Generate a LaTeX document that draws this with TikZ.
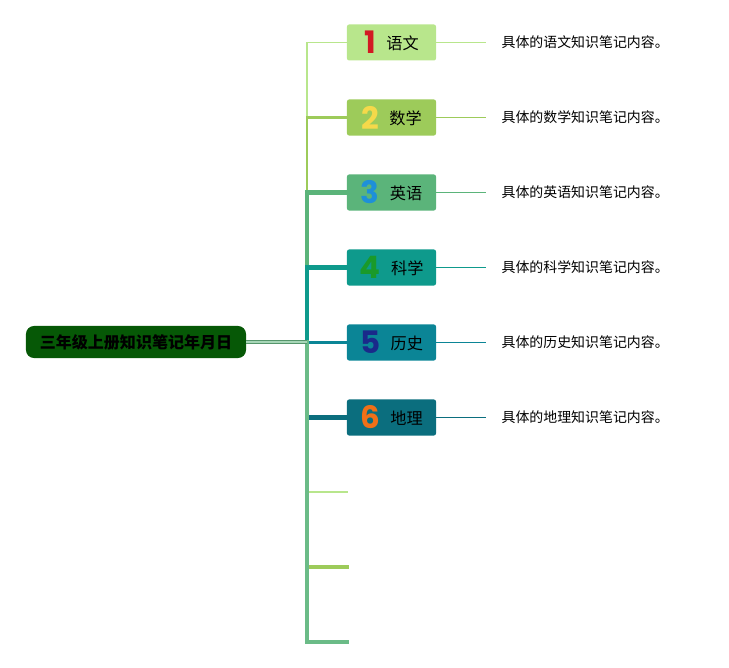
\documentclass[tikz,border=0pt]{standalone}
\usepackage{fontspec}
\newfontfamily\cjk{Noto Sans CJK SC}
\newfontfamily\zahl{Poppins}
\newcommand\nummer{\zahl\bfseries\fontsize{22}{22}\selectfont}
\newcommand\fachname[1]{\hspace{7.5pt}\raisebox{3.2pt}{#1}}
\usetikzlibrary{positioning}
\definecolor{wurzel}{RGB}{6,88,6}
\definecolor{yuwen}{RGB}{184,230,140}
\definecolor{shuxue}{RGB}{157,203,90}
\definecolor{yingyu}{RGB}{91,180,122}
\definecolor{kexue}{RGB}{14,154,140}
\definecolor{lishi}{RGB}{11,133,150}
\definecolor{dili}{RGB}{11,110,126}
\definecolor{rot}{RGB}{210,25,35}
\definecolor{gelb}{RGB}{245,217,74}
\definecolor{blau}{RGB}{30,144,216}
\definecolor{gruen}{RGB}{26,154,42}
\definecolor{marine}{RGB}{26,42,138}
\definecolor{orange}{RGB}{240,112,24}
\colorlet{stamm}{yingyu!90!white}

\begin{document}
\begin{tikzpicture}[x=0.025cm, y=-0.025cm,
    fach/.style={minimum width=2.225cm, minimum height=0.9cm, rounded corners=1.5pt,
                 inner sep=0pt, font=\cjk\fontsize{11.5}{13}\selectfont},
    notiz/.style={right=1.25cm of #1, anchor=west, inner xsep=10.7pt, inner ysep=0pt,
                  font=\cjk\fontsize{9.9}{11}\selectfont},
    ast/.style={line cap=rect, line join=miter}]

    \useasboundingbox (0,0) rectangle (729,668);

    \node[fill=wurzel, rounded corners=0.2cm, minimum width=5.5cm, minimum height=0.8cm,
          font=\cjk\bfseries\fontsize{11.4}{13}\selectfont] (root) at (136,342) {三年级上册知识笔记年月日};
    \coordinate (hub) at (307,342);

    \node[fach, fill=yuwen]  (b1) at (391.5,42.5)  {\textcolor{rot}{\nummer 1}\fachname{语文}};
    \node[fach, fill=shuxue] (b2) at (391.5,117.5) {\textcolor{gelb}{\nummer 2}\fachname{数学}};
    \node[fach, fill=yingyu] (b3) at (391.5,192.5) {\textcolor{blau}{\nummer 3}\fachname{英语}};
    \node[fach, fill=kexue]  (b4) at (391.5,267.5) {\textcolor{gruen}{\nummer 4}\fachname{科学}};
    \node[fach, fill=lishi]  (b5) at (391.5,342.5) {\textcolor{marine}{\nummer 5}\fachname{历史}};
    \node[fach, fill=dili]   (b6) at (391.5,417.5) {\textcolor{orange}{\nummer 6}\fachname{地理}};

    \coordinate (e7) at (347,492);
    \coordinate (e8) at (347,567);
    \coordinate (e9) at (347,642);

    % Äste vom Stamm
    \draw[ast, yuwen, line width=1.2pt] (hub) |- (b1.west);
    \draw[ast, shuxue, line width=2pt] (hub) |- (b2.west);
    \draw[ast, yingyu, line width=3pt] (hub) |- (b3.west);
    \draw[ast, kexue, line width=3pt] (hub) |- (b4.west);
    \draw[ast, lishi, line width=2.2pt] (hub) |- (b5.west);
    \draw[ast, dili, line width=3pt] (hub) |- (b6.west);
    \draw[ast, yuwen, line width=1.5pt] (hub) |- (e7);
    \draw[ast, shuxue, line width=2.2pt] (hub) |- (e8);
    \draw[ast, stamm, line width=2.8pt] (hub) |- (e9);
    \draw[stamm!80!black, line width=3.5pt] (root.east) -- (hub);
    \draw[stamm!60!white, line width=2pt] (root.east) -- (hub);

    \node[notiz=b1] (n1) {具体的语文知识笔记内容。};
    \node[notiz=b2] (n2) {具体的数学知识笔记内容。};
    \node[notiz=b3] (n3) {具体的英语知识笔记内容。};
    \node[notiz=b4] (n4) {具体的科学知识笔记内容。};
    \node[notiz=b5] (n5) {具体的历史知识笔记内容。};
    \node[notiz=b6] (n6) {具体的地理知识笔记内容。};

    \draw[yuwen, line width=0.6pt] (b1.east) -- (n1.west);
    \draw[shuxue, line width=0.6pt] (b2.east) -- (n2.west);
    \draw[yingyu, line width=0.6pt] (b3.east) -- (n3.west);
    \draw[kexue, line width=0.6pt] (b4.east) -- (n4.west);
    \draw[lishi, line width=0.6pt] (b5.east) -- (n5.west);
    \draw[dili, line width=0.6pt] (b6.east) -- (n6.west);

\end{tikzpicture}
\end{document}
